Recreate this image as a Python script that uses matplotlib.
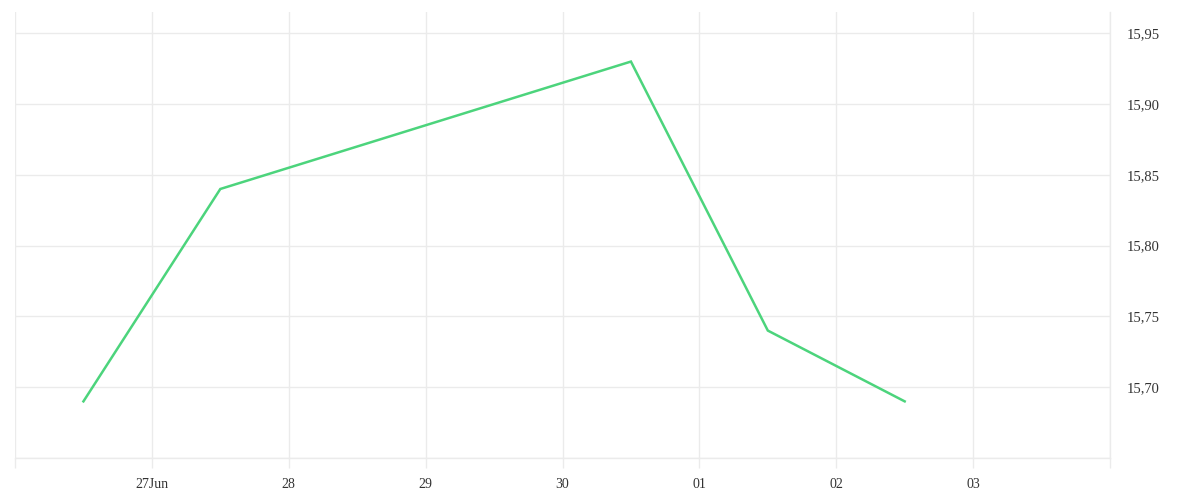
import numpy as np
import pandas as pd
import matplotlib
matplotlib.use('Agg')
from matplotlib import pyplot as plt
import matplotlib.dates as mdates

dates = ['2024-06-26 12:00', '2024-06-27 12:00', '2024-06-30 12:00',
         '2024-07-01 12:00', '2024-07-02 12:00']
values = [15.69, 15.84, 15.93, 15.74, 15.69]

tick_days = pd.date_range('2024-06-26', '2024-07-04', freq='D')
tick_labels = ['', '27Jun', '28', '29', '30', '01', '02', '03', '']
y_ticks = [15.65, 15.70, 15.75, 15.80, 15.85, 15.90, 15.95]
y_labels = ['', '15,70', '15,75', '15,80', '15,85', '15,90', '15,95']

grid_c = '#ebebeb'
text_c = '#333333'

plt.rcParams['font.family'] = ['Liberation Serif', 'DejaVu Serif']

fig = plt.figure(figsize=(12, 5), dpi=100)
ax = fig.add_axes([15 / 1200, 42 / 500, 1095 / 1200, 446 / 500])

ax.plot(pd.to_datetime(dates), values, color='#4cd47c', lw=1.8,
        solid_joinstyle='miter')

ax.set_xlim(tick_days[0], tick_days[-1])
ax.set_ylim(15.65, 15.965)

ax.set_xticks(tick_days)
ax.set_xticklabels(tick_labels)
ax.set_yticks(y_ticks)
ax.set_yticklabels(y_labels)
ax.yaxis.tick_right()

ax.grid(True, color=grid_c, lw=1)
ax.set_axisbelow(True)
# edge gridlines get clipped, draw them again
ax.axvline(tick_days[-1], color=grid_c, lw=1, clip_on=False, zorder=0.5)
ax.axhline(y_ticks[0], color=grid_c, lw=1, clip_on=False, zorder=0.5)
for s in ax.spines.values():
    s.set_visible(False)

ax.tick_params(axis='x', length=7.5, color=grid_c, width=1, pad=7,
               labelsize=10, labelcolor=text_c)
ax.tick_params(axis='y', length=0, pad=12, labelsize=10.5, labelcolor=text_c)

fig.savefig('out.png', dpi=100, facecolor='white')
